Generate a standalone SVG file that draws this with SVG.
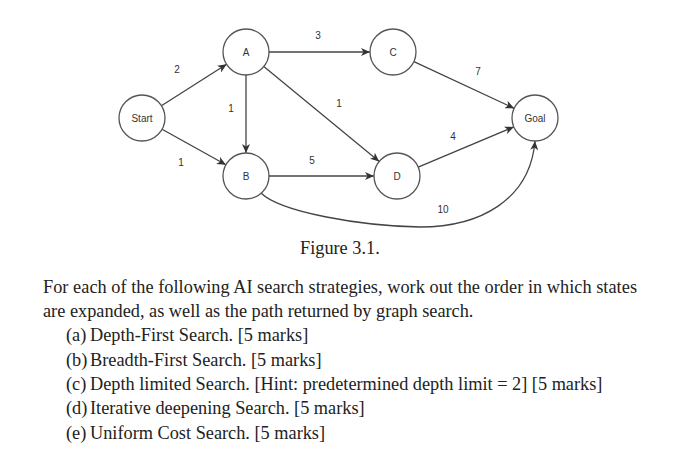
<svg xmlns="http://www.w3.org/2000/svg" width="700" height="458" viewBox="0 0 700 458">
<style>
.node circle{fill:#fff;stroke:#555;stroke-width:1.3}
.node text{font-family:"Liberation Sans",Arial,sans-serif;font-size:10px;fill:#333;text-anchor:middle}
.edge{stroke:#444;stroke-width:1.3;fill:none;marker-end:url(#arr)}
.lbl{font-family:"Liberation Sans",Arial,sans-serif;font-size:10px;fill:#333;text-anchor:middle}
.body{font-family:"Liberation Serif","Times New Roman",serif;font-size:18.3px;fill:#222}
</style>
<defs>
<marker id="arr" markerUnits="userSpaceOnUse" markerWidth="10" markerHeight="8" refX="9" refY="4" orient="auto">
<path d="M0,0 L9,4 L0,8 L2.5,4 Z" fill="#333"/>
</marker>
</defs>
<rect width="700" height="458" fill="#fff"/>
<g id="connectors">
<line class="edge" x1="161.4" y1="105.7" x2="226.6" y2="64.3"/>
<line class="edge" x1="162.1" y1="129.2" x2="225.9" y2="164.8"/>
<line class="edge" x1="269" y1="52" x2="370" y2="52"/>
<line class="edge" x1="246" y1="75" x2="246" y2="153"/>
<line class="edge" x1="263.8" y1="66.6" x2="379.2" y2="161.4"/>
<line class="edge" x1="269" y1="176" x2="374" y2="176"/>
<line class="edge" x1="413.9" y1="61.7" x2="514.1" y2="108.3"/>
<line class="edge" x1="418.2" y1="167.1" x2="513.8" y2="126.9"/>
<path class="edge" d="M261,193 C280,212 360,226 420,227 C480,227 530,200 535,141"/>
<text class="lbl" x="177" y="73">2</text>
<text class="lbl" x="181" y="166">1</text>
<text class="lbl" x="318" y="39">3</text>
<text class="lbl" x="231" y="112">1</text>
<text class="lbl" x="339" y="107">1</text>
<text class="lbl" x="312" y="164">5</text>
<text class="lbl" x="478" y="75">7</text>
<text class="lbl" x="453" y="140">4</text>
<text class="lbl" x="443" y="213">10</text>
</g>
<g id="node-start" class="node"><circle cx="142" cy="118" r="23"/><text x="142" y="121.5">Start</text></g>
<g id="node-a" class="node"><circle cx="246" cy="52" r="23"/><text x="246" y="55.5">A</text></g>
<g id="node-b" class="node"><circle cx="246" cy="176" r="23"/><text x="246" y="179.5">B</text></g>
<g id="node-c" class="node"><circle cx="393" cy="52" r="23"/><text x="393" y="55.5">C</text></g>
<g id="node-d" class="node"><circle cx="397" cy="176" r="23"/><text x="397" y="179.5">D</text></g>
<g id="node-goal" class="node"><circle cx="535" cy="118" r="23"/><text x="535" y="121.5">Goal</text></g>
<g id="text">
<text class="body" x="300" y="254">Figure 3.1.</text>
<text class="body" x="43" y="293" textLength="594" lengthAdjust="spacing">For each of the following AI search strategies, work out the order in which states</text>
<text class="body" x="43" y="317">are expanded, as well as the path returned by graph search.</text>
<text class="body" x="66" y="341">(a)</text><text class="body" x="90" y="341">Depth-First Search. [5 marks]</text>
<text class="body" x="66" y="366">(b)</text><text class="body" x="90" y="366">Breadth-First Search. [5 marks]</text>
<text class="body" x="66" y="390">(c)</text><text class="body" x="90" y="390">Depth limited Search. [Hint: predetermined depth limit = 2] [5 marks]</text>
<text class="body" x="66" y="414">(d)</text><text class="body" x="90" y="414">Iterative deepening Search. [5 marks]</text>
<text class="body" x="66" y="439">(e)</text><text class="body" x="90" y="439">Uniform Cost Search. [5 marks]</text>
</g>
</svg>
